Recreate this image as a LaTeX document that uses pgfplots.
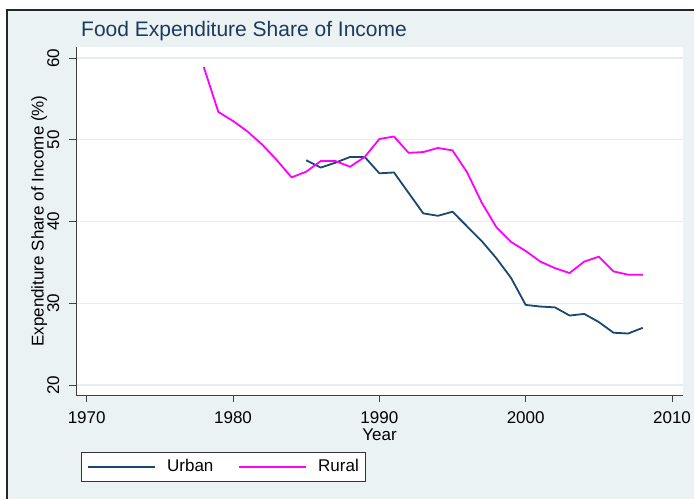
\documentclass[border=0pt]{standalone}
\usepackage{pgfplots}
\pgfplotsset{compat=1.18}
\usepackage{fontspec}
\setmainfont{Liberation Sans}
\definecolor{bgc}{HTML}{EAF2F3}
\definecolor{gridc}{HTML}{E4EDEF}
\definecolor{urbanc}{HTML}{1A476F}
\definecolor{ruralc}{HTML}{FF00FF}
\definecolor{titlec}{HTML}{1E3A5C}

\pgfplotstableread{
year share
1985 47.5
1986 46.6
1987 47.2
1988 47.9
1989 47.9
1990 45.9
1991 46.0
1992 43.5
1993 41.0
1994 40.7
1995 41.2
1996 39.4
1997 37.6
1998 35.5
1999 33.1
2000 29.8
2001 29.6
2002 29.5
2003 28.5
2004 28.7
2005 27.7
2006 26.4
2007 26.3
2008 27.0
}\urban

\pgfplotstableread{
year share
1978 58.9
1979 53.4
1980 52.3
1981 51.0
1982 49.4
1983 47.5
1984 45.4
1985 46.1
1986 47.4
1987 47.4
1988 46.7
1989 47.9
1990 50.1
1991 50.4
1992 48.4
1993 48.5
1994 49.0
1995 48.7
1996 46.0
1997 42.3
1998 39.3
1999 37.5
2000 36.4
2001 35.1
2002 34.3
2003 33.7
2004 35.1
2005 35.7
2006 33.9
2007 33.5
2008 33.5
}\rural

\begin{document}
\fontsize{17}{20}\selectfont
\begin{tikzpicture}
\useasboundingbox (0,0) rectangle (694pt,499pt);
\fill[white] (0,0) rectangle (694pt,499pt);
\fill[bgc] (7pt,0) rectangle (694pt,489pt);
\draw[line width=1.5pt, black!85] (7pt,0) -- (7pt,489pt) -- (694pt,489pt);
\begin{axis}[
    at={(76pt,104pt)}, anchor=south west,
    scale only axis, width=607pt, height=348pt,
    xmin=1969.27, xmax=2010.75, ymin=18.78, ymax=61.35,
    axis lines*=left,
    axis line style={-, line width=0.8pt, black!75},
    axis background/.style={fill=white},
    xtick={1970,1980,...,2010}, ytick={20,30,...,60},
    tick align=outside, major tick length=7pt,
    tick style={line width=0.8pt, black!75},
    /pgf/number format/assume math mode=true,
    /pgf/number format/1000 sep={},
    tick label style={font=\fontsize{17}{20}\selectfont},
    xticklabel style={anchor=base, yshift=-21.5pt},
    yticklabel style={rotate=90, anchor=base},
    yticklabel shift=10pt,
    ymajorgrids,
    grid style={line width=1.3pt, gridc},
    title={Food Expenditure Share of Income},
    title style={at={(axis description cs:0.0082,1.0115)}, anchor=base west,
        font=\fontsize{21}{24}\selectfont, text=titlec, inner sep=0pt},
    xlabel={Year},
    xlabel style={at={(axis description cs:0.5,-0.13)}, anchor=base, inner sep=0pt},
    ylabel={Expenditure Share of Income (\%)},
    ylabel style={at={(axis description cs:-0.0535,0.5)}, anchor=base, inner sep=0pt},
    label style={font=\fontsize{17}{20}\selectfont},
    legend columns=2,
    legend image code/.code={\draw[#1] (0pt,0pt) -- (67pt,0pt);},
    legend style={at={(axis description cs:0.0082,-0.164)}, anchor=north west,
        draw=black!80, line width=0.7pt, fill=white,
        font=\fontsize{17}{20}\selectfont,
        inner xsep=6pt, inner ysep=5pt,
        nodes={inner xsep=0pt},
        /tikz/every odd column/.append style={column sep=11pt},
        /tikz/every even column/.append style={column sep=25pt}},
]
\addplot[urbanc, line width=1.8pt, line join=round] table[x=year, y=share] {\urban};
\addlegendentry{Urban}
\addplot[ruralc, line width=1.8pt, line join=round] table[x=year, y=share] {\rural};
\addlegendentry{Rural}
\end{axis}
\end{tikzpicture}
\end{document}
